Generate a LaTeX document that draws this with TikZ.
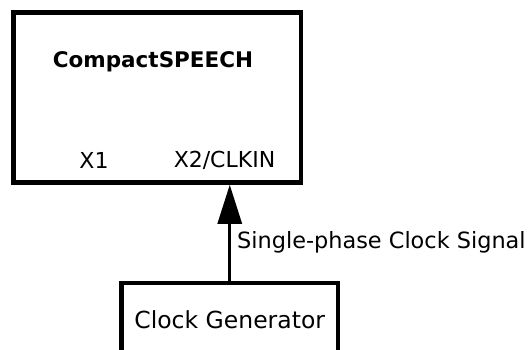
\documentclass[tikz,border=0pt]{standalone}
\usepackage{fontspec}
\setmainfont{DejaVu Sans}
\usetikzlibrary{arrows.meta}

\tikzset{
  box/.style={draw,line width=4.5pt,inner sep=0pt},
  lbl/.style={inner sep=0pt,font=\fontsize{22}{26}\selectfont}
}

\begin{document}
\begin{tikzpicture}[x=1pt,y=-1pt]
   \clip (0,0) rectangle (532,350);
   \node[box,minimum width=287.5pt,minimum height=170pt] (chip) at (157.25,97.5) {};
   \node[inner sep=0pt,font=\fontsize{21.5}{26}\selectfont\bfseries] (title) at (153,61.5) {CompactSPEECH};
   \node[lbl] (xa) at (94,160) {X1};
   \node[lbl] (xb) at (224.5,160) {X2/CLKIN};
   \node[box,minimum width=216.5pt,minimum height=74pt,lbl,font=\fontsize{23.5}{28}\selectfont] (gen) at (229.75,320) {Clock Generator};
   \draw[line width=3pt,-{Triangle[width=24pt,length=39pt]}] (gen.north) -- (chip.south -| gen.north);
   \node[lbl,anchor=west,font=\fontsize{22.4}{26}\selectfont] (sig) at (237,242) {Single-phase Clock Signal};
  \end{tikzpicture}
\end{document}
